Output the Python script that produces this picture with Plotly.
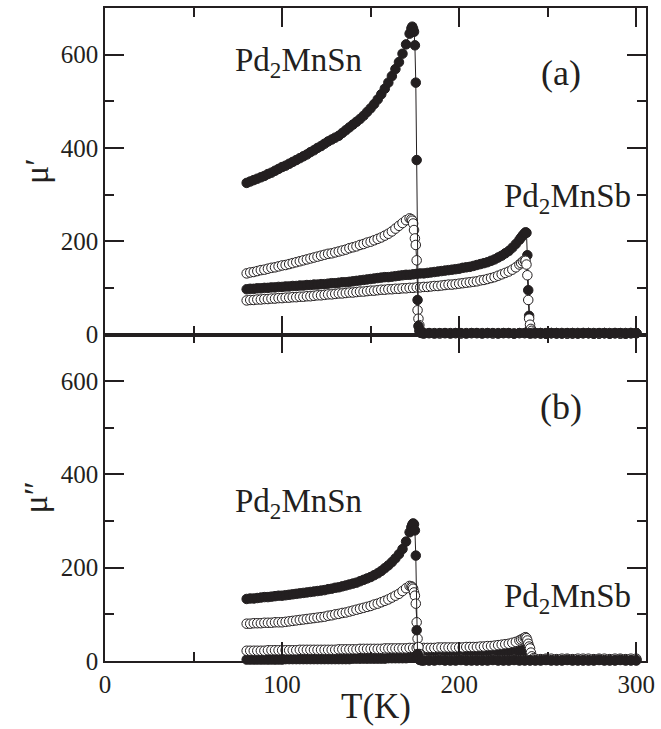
import plotly.graph_objects as go

# ---------------- data ----------------
# Temperature grid for Pd2MnSn series (K)
T_SN = [80, 82, 84, 86, 88, 90, 92, 94, 96, 98,
        100, 102, 104, 106, 108, 110, 112, 114, 116, 118,
        120, 122, 124, 126, 128, 130, 132, 134, 136, 138,
        140, 142, 144, 146, 148, 150, 152, 154, 156, 158,
        160, 162, 164, 166, 168, 170, 172,
        173, 173.5, 174, 174.5, 175, 175.5, 176, 176.5, 177, 177.5, 178, 179, 180,
        183, 186, 189, 192, 195, 198, 201, 204, 207, 210,
        213, 216, 219, 222, 225, 228, 231, 234, 237, 240,
        243, 246, 249, 252, 255, 258, 261, 264, 267, 270,
        273, 276, 279, 282, 285, 288, 291, 294, 297, 300]

# Temperature grid for Pd2MnSb series (K)
T_SB = [80, 82, 84, 86, 88, 90, 92, 94, 96, 98,
        100, 102, 104, 106, 108, 110, 112, 114, 116, 118,
        120, 122, 124, 126, 128, 130, 132, 134, 136, 138,
        140, 142, 144, 146, 148, 150, 152, 154, 156, 158,
        160, 162, 164, 166, 168, 170, 172, 174, 176, 178,
        180, 182, 184, 186, 188, 190, 192, 194, 196, 198,
        200, 202, 204, 206, 208, 210, 212, 214, 216, 218,
        220, 222, 224, 226, 228, 230, 232, 234,
        235, 236, 237, 237.5, 238, 238.5, 239, 239.5, 240, 240.5, 241, 242,
        243, 246, 249, 252, 255, 258, 261, 264, 267, 270,
        273, 276, 279, 282, 285, 288, 291, 294, 297, 300]

# (a) mu' , Pd2MnSn
SN_FILLED_A = [325, 328, 331, 334, 337, 340, 344, 347, 351, 355,
               359, 362, 366, 370, 374, 378, 382, 386, 391, 395,
               400, 404, 409, 414, 418, 422, 426, 432, 438, 444,
               450, 456, 462, 469, 477, 485, 494, 504, 515, 527,
               540, 554, 569, 584, 602, 622, 645,
               656, 660, 655, 649, 620, 540, 374, 74, 18, 8, 4, 3, 2,
               3, 2, 3, 3, 2, 3, 3, 2, 3, 3,
               2, 3, 3, 2, 3, 3, 2, 3, 3, 2,
               3, 3, 2, 3, 3, 2, 3, 3, 2, 3,
               3, 2, 3, 3, 2, 3, 3, 2, 3, 3]
SN_OPEN_A = [131, 133, 134, 136, 138, 139, 141, 143, 144, 146,
             148, 149, 151, 153, 155, 157, 159, 161, 163, 165,
             167, 169, 171, 173, 174, 176, 178, 180, 182, 185,
             187, 189, 192, 194, 197, 199, 202, 205, 208, 212,
             216, 221, 227, 233, 239, 245, 249,
             247, 244, 238, 224, 206, 192, 159, 52, 34, 20, 9, 5, 3,
             3, 3, 2, 3, 3, 3, 2, 3, 3, 3,
             3, 3, 2, 3, 3, 3, 2, 3, 3, 3,
             3, 3, 2, 3, 3, 3, 2, 3, 3, 3,
             3, 3, 2, 3, 3, 3, 2, 3, 3, 3]

# (a) mu' , Pd2MnSb
SB_FILLED_A = [97, 98, 98, 99, 99, 100, 100, 101, 101, 102,
               102, 103, 103, 104, 104, 105, 105, 106, 106, 107,
               107, 108, 108, 109, 110, 110, 111, 112, 112, 113,
               114, 115, 116, 117, 118, 119, 120, 121, 122, 123,
               123, 124, 125, 126, 127, 128, 128, 129, 130, 131,
               131, 132, 133, 134, 135, 136, 137, 138, 139, 140,
               141, 143, 144, 145, 147, 149, 151, 153, 155, 158,
               161, 165, 169, 174, 179, 186, 194, 203,
               208, 213, 217, 219, 218, 170, 95, 40, 12, 5, 3, 3,
               3, 2, 3, 3, 2, 3, 3, 2, 3, 3,
               3, 2, 3, 3, 2, 3, 3, 2, 3, 3]
SB_OPEN_A = [73, 74, 74, 75, 75, 76, 76, 77, 77, 78,
             78, 79, 79, 80, 80, 81, 81, 82, 82, 83,
             84, 84, 85, 86, 86, 87, 88, 88, 89, 90,
             90, 91, 92, 92, 93, 94, 94, 95, 96, 96,
             97, 97, 98, 98, 99, 99, 100, 100, 101, 101,
             102, 102, 103, 104, 104, 105, 106, 107, 107, 108,
             109, 110, 111, 112, 113, 114, 116, 117, 119, 121,
             123, 126, 129, 132, 135, 139, 144, 150,
             153, 157, 159, 158, 150, 127, 74, 34, 21, 12, 8, 4,
             3, 3, 2, 3, 3, 3, 2, 3, 3, 3,
             3, 3, 2, 3, 3, 3, 2, 3, 3, 3]

# (b) mu'' , Pd2MnSn
SN_FILLED_B = [133, 134, 134, 135, 136, 137, 137, 138, 139, 140,
               140, 141, 142, 143, 144, 145, 146, 147, 148, 149,
               150, 151, 152, 154, 155, 157, 158, 160, 162, 164,
               166, 168, 171, 174, 177, 180, 184, 188, 193, 199,
               205, 212, 220, 229, 240, 256, 276,
               287, 292, 295, 293, 280, 226, 66, 15, 6, 3, 2, 1, 1,
               1, 1, 2, 1, 1, 1, 2, 1, 1, 1,
               1, 1, 2, 1, 1, 1, 2, 1, 1, 1,
               1, 1, 2, 1, 1, 1, 2, 1, 1, 1,
               1, 1, 2, 1, 1, 1, 2, 1, 1, 1]
SN_OPEN_B = [80, 80, 81, 81, 81, 82, 82, 82, 83, 83,
             83, 84, 85, 86, 87, 88, 89, 90, 91, 92,
             93, 94, 95, 97, 98, 100, 101, 103, 104, 106,
             108, 110, 112, 114, 116, 118, 121, 123, 126, 129,
             132, 136, 140, 144, 150, 156, 161,
             160, 158, 155, 147, 140, 123, 83, 48, 30, 15, 8, 4, 3,
             2, 2, 3, 2, 2, 2, 3, 2, 2, 2,
             2, 2, 3, 2, 2, 2, 3, 2, 2, 2,
             2, 2, 3, 2, 2, 2, 3, 2, 2, 2,
             2, 2, 3, 2, 2, 2, 3, 2, 2, 2]

# (b) mu'' , Pd2MnSb
SB_FILLED_B = [3, 3, 3, 3, 3, 3, 3, 3, 3, 3,
               3, 4, 4, 4, 4, 4, 4, 4, 4, 4,
               4, 4, 4, 4, 4, 4, 4, 4, 4, 4,
               5, 5, 5, 5, 5, 5, 5, 5, 5, 5,
               6, 6, 6, 6, 6, 6, 7, 7, 7, 7,
               7, 7, 8, 8, 8, 8, 8, 9, 9, 9,
               9, 9, 10, 10, 10, 11, 11, 12, 12, 13,
               13, 14, 15, 16, 17, 18, 19, 21,
               22, 23, 23, 23, 20, 14, 8, 5, 4, 3, 3, 3,
               3, 3, 3, 3, 3, 3, 3, 3, 3, 3,
               3, 3, 3, 3, 3, 3, 3, 3, 3, 3]
SB_OPEN_B = [22, 22, 22, 22, 22, 22, 23, 23, 23, 23,
             23, 23, 23, 23, 23, 24, 24, 24, 24, 24,
             24, 24, 24, 24, 24, 24, 25, 25, 25, 25,
             25, 25, 26, 26, 26, 26, 26, 26, 26, 27,
             27, 27, 27, 27, 27, 27, 28, 28, 28, 28,
             28, 28, 28, 28, 29, 29, 29, 29, 29, 29,
             29, 29, 30, 30, 30, 30, 31, 31, 32, 32,
             33, 34, 35, 36, 37, 39, 41, 44,
             46, 48, 50, 51, 49, 44, 37, 31, 27, 18, 10, 6,
             5, 4, 5, 5, 4, 5, 5, 4, 5, 5,
             5, 4, 5, 5, 4, 5, 5, 4, 5, 5]

X_TICKS = [0, 100, 200, 300]
Y_TICKS = [0, 200, 400, 600]

# ---------------- figure ----------------
FONT = "Liberation Serif"
INK = "#231f20"

fig = go.Figure()


def add(tx, ty, filled, xa, ya):
    fig.add_trace(go.Scatter(
        x=tx, y=ty, xaxis=xa, yaxis=ya, mode="lines+markers",
        line=dict(color=INK, width=1),
        marker=dict(symbol="circle", size=9.5,
                    color=INK if filled else "white",
                    line=dict(color=INK, width=1)),
        cliponaxis=False, showlegend=False, hoverinfo="skip"))


# top panel (a)
add(T_SB, SB_FILLED_A, True, "x2", "y2")
add(T_SB, SB_OPEN_A, False, "x2", "y2")
add(T_SN, SN_OPEN_A, False, "x2", "y2")
add(T_SN, SN_FILLED_A, True, "x2", "y2")
# bottom panel (b)
add(T_SB, SB_FILLED_B, True, "x", "y")
add(T_SB, SB_OPEN_B, False, "x", "y")
add(T_SN, SN_OPEN_B, False, "x", "y")
add(T_SN, SN_FILLED_B, True, "x", "y")

tickfont = dict(family=FONT, size=25, color=INK)
common = dict(showline=True, linecolor=INK, linewidth=1.5, mirror="allticks",
              ticks="inside", ticklen=19, tickwidth=1.5, tickcolor=INK,
              showgrid=False, zeroline=False, tickfont=tickfont)
xcommon = dict(common, range=[0, 305.5], tickvals=X_TICKS,
               minor=dict(dtick=50, tick0=0, ticklen=9, ticks="inside",
                          tickwidth=1.5, tickcolor=INK))
ycommon = dict(common, range=[0, 700], tickvals=Y_TICKS,
               minor=dict(dtick=100, tick0=0, ticklen=9, ticks="inside",
                          tickwidth=1.5, tickcolor=INK))

fig.update_layout(
    width=661, height=729,
    margin=dict(l=105, r=10, t=6, b=68),
    paper_bgcolor="white", plot_bgcolor="white",
    xaxis=dict(xcommon, domain=[0, 1], anchor="y"),
    xaxis2=dict(xcommon, domain=[0, 1], anchor="y2", matches="x",
                showticklabels=False),
    yaxis=dict(ycommon, domain=[0, 0.5], anchor="x"),
    yaxis2=dict(ycommon, domain=[0.5, 1], anchor="x2"),
)

lab = dict(family=FONT, size=33, color=INK)
ann = [
    dict(text="Pd<sub>2</sub>MnSn", x=72.0, y=584, xref="x2", yref="y2",
         xanchor="left", yanchor="middle", font=lab),
    dict(text="Pd<sub>2</sub>MnSb", x=224.3, y=292, xref="x2", yref="y2",
         xanchor="left", yanchor="middle", font=lab),
    dict(text="(a)", x=257.5, y=560, xref="x2", yref="y2",
         xanchor="center", yanchor="middle", font=dict(lab, size=36)),
    dict(text="Pd<sub>2</sub>MnSn", x=72.0, y=337, xref="x", yref="y",
         xanchor="left", yanchor="middle", font=lab),
    dict(text="Pd<sub>2</sub>MnSb", x=224.3, y=133, xref="x", yref="y",
         xanchor="left", yanchor="middle", font=lab),
    dict(text="(b)", x=257.5, y=545, xref="x", yref="y",
         xanchor="center", yanchor="middle", font=dict(lab, size=36)),
    dict(text="μ′", x=-0.128, y=0.75, xref="paper", yref="paper",
         xanchor="center", yanchor="middle", textangle=-90,
         font=dict(family=FONT, size=34, color=INK)),
    dict(text="μ″", x=-0.128, y=0.25, xref="paper", yref="paper",
         xanchor="center", yanchor="middle", textangle=-90,
         font=dict(family=FONT, size=34, color=INK)),
    dict(text="T(K)", x=0.5, y=-0.070, xref="paper", yref="paper",
         xanchor="center", yanchor="middle",
         font=dict(family=FONT, size=35, color=INK)),
]
for a in ann:
    a["showarrow"] = False
fig.update_layout(annotations=ann)

fig.write_html("out.html")
